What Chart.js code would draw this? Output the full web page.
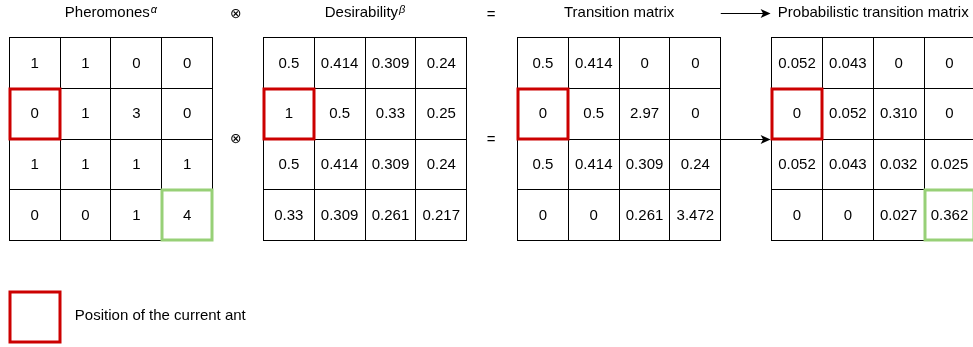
<!DOCTYPE html>
<html><head><meta charset="utf-8">
<script src="https://cdn.jsdelivr.net/npm/chart.js@4/dist/chart.umd.min.js"></script>
<style>html,body{margin:0;padding:0;background:#fff;overflow:hidden}canvas{display:block}</style>
</head><body>
<canvas id="c" width="973" height="347"></canvas>
<script>
// ---- data ----
const matrixTitles = ['Pheromones', 'Desirability', 'Transition matrix', 'Probabilistic transition matrix'];
const titleSuperscripts = ['α', 'β', '', ''];
const pheromones = [[1, 1, 0, 0], [0, 1, 3, 0], [1, 1, 1, 1], [0, 0, 1, 4]];
const desirability = [[0.5, 0.414, 0.309, 0.24], [1, 0.5, 0.33, 0.25], [0.5, 0.414, 0.309, 0.24], [0.33, 0.309, 0.261, 0.217]];
const transition = [[0.5, 0.414, 0, 0], [0, 0.5, 2.97, 0], [0.5, 0.414, 0.309, 0.24], [0, 0, 0.261, 3.472]];
const probabilistic = [[0.052, 0.043, 0, 0], [0, 0.052, 0.310, 0], [0.052, 0.043, 0.032, 0.025], [0, 0, 0.027, 0.362]];
const matrices = [pheromones, desirability, transition, probabilistic];
const decimals = [null, null, null, 3];
const operators = ['⊗', '=', 'arrow'];
const currentAnt = { row: 1, col: 0 };
const bestCell = { row: 3, col: 3 };
const bestCellMatrices = [0, 3];
const legendLabel = 'Position of the current ant';

// ---- layout (grid units: one cell = 1) ----
const SPAN = 5;           // 4 cells + 1 gap per matrix
const CELL_PX = 50.82, X0_PX = 9.3, CELL_PY = 50.75, Y0_PX = 37.7;
const W = 973, H = 347;
const RED = '#cc0000', GREEN = '#97d077';
const FONT = '"Liberation Sans", Arial, Helvetica, sans-serif';

function fmt(v, d) { return v === 0 ? '0' : (d ? v.toFixed(d) : String(v)); }

const datasets = matrices.map((mat, m) => ({
  label: matrixTitles[m],
  data: mat.flatMap((row, r) => row.map((v, c) => ({ x: m * SPAN + c + 0.5, y: r + 0.5, text: fmt(v, decimals[m]) }))),
  pointRadius: 0, showLine: false
}));

const snap = p => Math.round(p - 0.5) + 0.5;

const diagram = {
  id: 'diagram',
  afterDatasetsDraw(chart) {
    const ctx = chart.ctx, xs = chart.scales.x, ys = chart.scales.y;
    const px = u => xs.getPixelForValue(u), py = v => ys.getPixelForValue(v);
    ctx.save();
    // grids
    ctx.strokeStyle = '#000'; ctx.lineWidth = 1;
    matrices.forEach((mat, m) => {
      const o = m * SPAN, n = mat.length;
      ctx.beginPath();
      for (let i = 0; i <= n; i++) {
        const x = snap(px(o + i));
        ctx.moveTo(x, snap(py(0)) - 0.5); ctx.lineTo(x, snap(py(n)) + 0.5);
        const y = snap(py(i));
        ctx.moveTo(snap(px(o)) - 0.5, y); ctx.lineTo(snap(px(o + n)) + 0.5, y);
      }
      ctx.stroke();
    });
    // cell labels
    ctx.fillStyle = '#000'; ctx.font = '15px ' + FONT;
    ctx.textAlign = 'center'; ctx.textBaseline = 'middle';
    chart.data.datasets.forEach((ds, i) => {
      chart.getDatasetMeta(i).data.forEach((el, k) => ctx.fillText(ds.data[k].text, el.x, el.y + 0.5));
    });
    // highlights
    const box = (u, v, color) => {
      ctx.strokeStyle = color; ctx.lineWidth = 3;
      const x0 = snap(px(u)) + 0.5, y0 = snap(py(v)) + 0.5, x1 = snap(px(u + 1)) - 0.5, y1 = snap(py(v + 1)) - 0.5;
      ctx.strokeRect(x0, y0, x1 - x0, y1 - y0);
    };
    bestCellMatrices.forEach(m => box(m * SPAN + bestCell.col, bestCell.row, GREEN));
    matrices.forEach((mat, m) => box(m * SPAN + currentAnt.col, currentAnt.row, RED));
    // titles
    const tY = py(-0.49);
    matrices.forEach((mat, m) => {
      const cx = px(m * SPAN + 2);
      ctx.font = '15px ' + FONT;
      const w1 = ctx.measureText(matrixTitles[m]).width;
      ctx.font = 'italic 11px ' + FONT;
      const w2 = titleSuperscripts[m] ? ctx.measureText(titleSuperscripts[m]).width + 1 : 0;
      const x = cx - (w1 + w2) / 2;
      ctx.textAlign = 'left'; ctx.fillStyle = '#000';
      ctx.font = '15px ' + FONT;
      ctx.fillText(matrixTitles[m], x, tY);
      if (titleSuperscripts[m]) {
        ctx.font = 'italic 11px ' + FONT;
        ctx.fillText(titleSuperscripts[m], x + w1 + 1, tY - 3);
      }
    });
    // operators
    const arrow = (xa, xb, y) => {
      ctx.strokeStyle = '#000'; ctx.fillStyle = '#000'; ctx.lineWidth = 1;
      ctx.beginPath(); ctx.moveTo(xa, y); ctx.lineTo(xb - 6, y); ctx.stroke();
      ctx.beginPath(); ctx.moveTo(xb, y); ctx.lineTo(xb - 10, y - 4.5); ctx.lineTo(xb - 7.5, y); ctx.lineTo(xb - 10, y + 4.5); ctx.closePath(); ctx.fill();
    };
    operators.forEach((op, i) => {
      const gapStart = i * SPAN + 4, gapEnd = (i + 1) * SPAN;
      [0, 1].forEach(row => {
        if (op === 'arrow') {
          arrow(px(gapStart), px(gapEnd) - 1, Math.round(row === 0 ? py(-0.48) : py(2)) + 0.5);
        } else {
          ctx.textAlign = 'center'; ctx.textBaseline = 'middle'; ctx.fillStyle = '#000';
          ctx.font = op === '⊗' ? '14px "DejaVu Sans", sans-serif' : '15px ' + FONT;
          ctx.fillText(op, px((gapStart + gapEnd) / 2) - (op === '⊗' ? 2 : 1), (row === 0 ? py(-0.46) : py(2)) + 0.5);
        }
      });
    });
    // legend
    box(0, 5, RED);
    ctx.fillStyle = '#000'; ctx.font = '15px ' + FONT; ctx.textAlign = 'left'; ctx.textBaseline = 'middle';
    ctx.fillText(legendLabel, px(1.29), py(5.48));
    ctx.restore();
  }
};

new Chart(document.getElementById('c'), {
  type: 'scatter',
  data: { datasets },
  options: {
    responsive: false, animation: false, events: [],
    layout: { padding: 0 },
    plugins: { legend: { display: false }, tooltip: { enabled: false } },
    scales: {
      x: { type: 'linear', display: false, min: -X0_PX / CELL_PX, max: (W - X0_PX) / CELL_PX },
      y: { type: 'linear', display: false, reverse: true, min: -Y0_PX / CELL_PY, max: (H - Y0_PX) / CELL_PY }
    }
  },
  plugins: [diagram]
});
</script>
</body></html>
